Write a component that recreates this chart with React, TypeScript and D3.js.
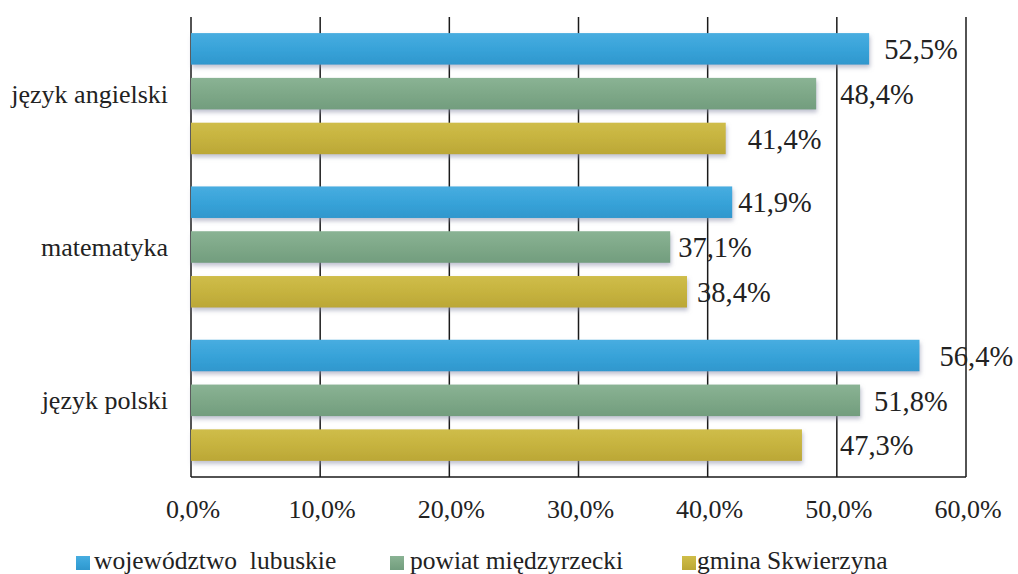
import React from "react";
import * as d3 from "d3";

const categories = ["język angielski", "matematyka", "język polski"];
const seriesNames = ["województwo  lubuskie", "powiat międzyrzecki", "gmina Skwierzyna"];
// values[series][category]
const wojewodztwo = [52.5, 41.9, 56.4];
const powiat = [48.4, 37.1, 51.8];
const gmina = [41.4, 38.4, 47.3];
const seriesValues = [wojewodztwo, powiat, gmina];
const xTicks = [0, 10, 20, 30, 40, 50, 60];

const colors = ["#38a3d9", "#7ea888", "#c6b33f"];
const colorsTop = ["#48ade0", "#8ab394", "#cfbd49"];
const colorsBottom = ["#2f97cd", "#729d7e", "#bba736"];
// label offsets (px) from bar end, [category][series]
const labelDx = [
  [15, 24, 22],
  [6, 8, 10],
  [20, 14, 38],
];

const W = 1018;
const H = 574;
const left = 191;
const right = 966;
const top = 17;
const bottom = 477;
const FONT = "'Liberation Serif', 'Times New Roman', serif";

const fmt = (v: number) => v.toFixed(1).replace(".", ",") + "%";

export default function App() {
  const x = d3.scaleLinear().domain([0, 60]).range([left, right]);
  const y0 = d3
    .scaleBand<string>()
    .domain(categories)
    .range([top, bottom])
    .paddingInner(0.21)
    .paddingOuter(0.105);
  const y1 = d3
    .scaleBand<number>()
    .domain([0, 1, 2])
    .range([0, y0.bandwidth()])
    .paddingInner(0.296)
    .paddingOuter(0);

  const legendX = [76, 390, 682];
  const legendTextX = [94, 410, 697];

  return (
    <svg
      width={W}
      height={H}
      style={{ position: "absolute", left: 0, top: 0, background: "#fff" }}
      fontFamily={FONT}
    >
      <defs>
        {colors.map((c, i) => (
          <linearGradient key={i} id={`g${i}`} x1="0" y1="0" x2="0" y2="1">
            <stop offset="0%" stopColor={colorsTop[i]} />
            <stop offset="50%" stopColor={c} />
            <stop offset="100%" stopColor={colorsBottom[i]} />
          </linearGradient>
        ))}
        <filter id="sh" x="-5%" y="-30%" width="110%" height="170%">
          <feDropShadow dx="1" dy="3" stdDeviation="2" floodColor="#8a8fa8" floodOpacity="0.55" />
        </filter>
      </defs>

      {/* gridlines */}
      {xTicks.map((t) => (
        <line
          key={t}
          x1={x(t)}
          x2={x(t)}
          y1={top}
          y2={bottom}
          stroke="#1a1a1a"
          strokeWidth={1.5}
        />
      ))}
      <line x1={left} x2={right} y1={bottom} y2={bottom} stroke="#1a1a1a" strokeWidth={1.5} />

      {/* bars */}
      {categories.map((cat, ci) =>
        seriesValues.map((vals, si) => {
          const yy = (y0(cat) as number) + (y1(si) as number);
          return (
            <rect
              key={`${ci}-${si}`}
              x={x(0)}
              y={yy}
              width={x(vals[ci]) - x(0)}
              height={y1.bandwidth()}
              fill={`url(#g${si})`}
              filter="url(#sh)"
            />
          );
        })
      )}

      {/* data labels */}
      {categories.map((cat, ci) =>
        seriesValues.map((vals, si) => {
          const yy = (y0(cat) as number) + (y1(si) as number) + y1.bandwidth() / 2;
          return (
            <text
              key={`l${ci}-${si}`}
              x={x(vals[ci]) + labelDx[ci][si]}
              y={yy}
              dy="0.36em"
              fontSize={28.5}
              fill="#222"
            >
              {fmt(vals[ci])}
            </text>
          );
        })
      )}

      {/* category labels */}
      {categories.map((cat) => (
        <text
          key={cat}
          x={168}
          y={(y0(cat) as number) + y0.bandwidth() / 2}
          dy="0.35em"
          textAnchor="end"
          fontSize={26}
          fill="#222"
        >
          {cat}
        </text>
      ))}

      {/* x tick labels */}
      {xTicks.map((t) => (
        <text key={`t${t}`} x={x(t) + 2} y={518} textAnchor="middle" fontSize={26} fill="#222">
          {fmt(t)}
        </text>
      ))}

      {/* legend */}
      {seriesNames.map((n, i) => (
        <g key={n}>
          <rect x={legendX[i]} y={556} width={14} height={14} fill={`url(#g${i})`} />
          <text x={legendTextX[i]} y={569} fontSize={25.5} fill="#222" style={{ whiteSpace: "pre" }}>
            {n}
          </text>
        </g>
      ))}
    </svg>
  );
}
